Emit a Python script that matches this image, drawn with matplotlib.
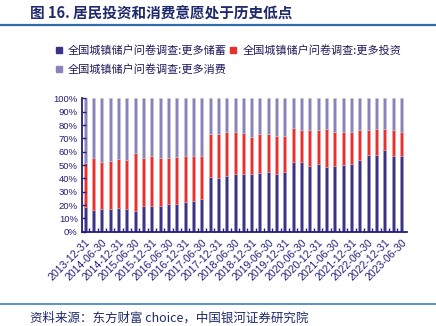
import numpy as np
import matplotlib
matplotlib.use('Agg')
from matplotlib import pyplot as plt
from matplotlib.lines import Line2D

plt.rcParams['font.family'] = ['Noto Sans CJK SC', 'DejaVu Sans']

# quarterly survey dates, 2013-12-31 .. 2023-06-30
dates = []
for y in range(2013, 2024):
	for md in ['03-31', '06-30', '09-30', '12-31']:
		dates.append(f'{y}-{md}')
dates = dates[dates.index('2013-12-31'):dates.index('2023-06-30') + 1]

# share of households (%)
saving = [18.3, 16.5, 17.0, 17.0, 17.8, 17.3, 15.8, 19.5, 19.5, 19.3,
	20.5, 20.5, 22.3, 22.8, 24.8, 41.0, 40.0, 42.0, 43.0, 43.5,
	43.5, 44.3, 45.0, 43.5, 45.0, 52.5, 52.0, 49.5, 50.8, 48.3,
	49.0, 49.8, 51.0, 54.0, 57.5, 57.5, 61.0, 57.0, 57.0]
saving_plus_invest = [51.8, 55.0, 52.0, 53.3, 54.5, 53.8, 59.3, 55.5, 57.0, 55.5,
	55.5, 55.8, 56.8, 56.8, 56.5, 73.0, 73.5, 74.8, 74.8, 74.0,
	70.8, 73.5, 73.0, 72.0, 71.5, 77.5, 76.5, 76.0, 76.5, 77.4,
	74.5, 75.0, 75.0, 76.0, 76.0, 76.8, 76.8, 76.5, 75.0]
invest = [a - b for a, b in zip(saving_plus_invest, saving)]
consume = [100 - a for a in saving_plus_invest]

labels = ['全国城镇储户问卷调查:更多储蓄', '全国城镇储户问卷调查:更多投资', '全国城镇储户问卷调查:更多消费']
colors = ['#3B3385', '#E8312F', '#8883B8']
edges = ['#9C98C8', '#F3A5A3', '#C9C6E0']
navy = '#231F7A'

fig = plt.figure(figsize=(4.36, 3.26), dpi=100)
ax = fig.add_axes([0.188, 0.289, 0.745, 0.409])

x = np.arange(len(dates))
w = 0.36
b1 = ax.bar(x, np.array(saving) / 100, w, color=colors[0], edgecolor=edges[0], linewidth=0.4)
b2 = ax.bar(x, np.array(invest) / 100, w, bottom=np.array(saving) / 100, color=colors[1], edgecolor=edges[1], linewidth=0.4)
b3 = ax.bar(x, np.array(consume) / 100, w, bottom=np.array(saving_plus_invest) / 100, color=colors[2], edgecolor=edges[2], linewidth=0.4)

ax.set_xlim(-0.4, len(dates) - 0.35)
ax.set_ylim(0, 1)
ax.set_yticks(np.arange(0, 1.01, 0.1))
ax.set_yticklabels([f'{int(round(v * 100))}%' for v in np.arange(0, 1.01, 0.1)],
	fontsize=6.8, color=navy, family='Liberation Sans')
ax.set_xticks(x[::2])
ax.set_xticklabels(dates[::2], rotation=45, ha='right', rotation_mode='anchor',
	fontsize=7.6, color=navy, family='Liberation Sans')
ax.set_xticks(x[:-1] + 0.5, minor=True)
ax.tick_params(axis='y', direction='in', length=3, width=1, color=navy, pad=3)
ax.tick_params(axis='x', which='major', length=0, pad=4)
ax.tick_params(axis='x', which='minor', direction='in', length=3, width=1, color=navy)
for s in ['top', 'right']:
	ax.spines[s].set_visible(False)
for s in ['left', 'bottom']:
	ax.spines[s].set_color(navy)
	ax.spines[s].set_linewidth(1.3)

# legend
handles = [Line2D([], [], marker='s', linestyle='', markersize=4, color=c) for c in colors]
order = [0, 2, 1]
fig.legend([handles[i] for i in order], [labels[i] for i in order], ncol=2,
	loc='upper left', bbox_to_anchor=(0.125, 0.862), frameon=False,
	fontsize=8.0, labelcolor='#1E1B5C', handlelength=0.8, handletextpad=0.4,
	columnspacing=0.2, labelspacing=0.75, borderpad=0, borderaxespad=0)

# title and source
fig.text(0.069, 0.958, '图 16. 居民投资和消费意愿处于历史低点', fontsize=10.5, fontweight='bold',
	color='#1F2A6B', va='center', ha='left')
fig.add_artist(Line2D([0, 1], [0.923, 0.923], color='#2F6BAD', linewidth=1.6, transform=fig.transFigure))
fig.add_artist(Line2D([0, 1], [0.068, 0.068], color='#3F7FC0', linewidth=1.2, transform=fig.transFigure))
fig.text(0.069, 0.025, '资料来源：东方财富 choice，中国银河证券研究院', fontsize=9, style='italic',
	color='#1F2A6B', va='center', ha='left')

plt.savefig('out.png', dpi=100, facecolor='white')
